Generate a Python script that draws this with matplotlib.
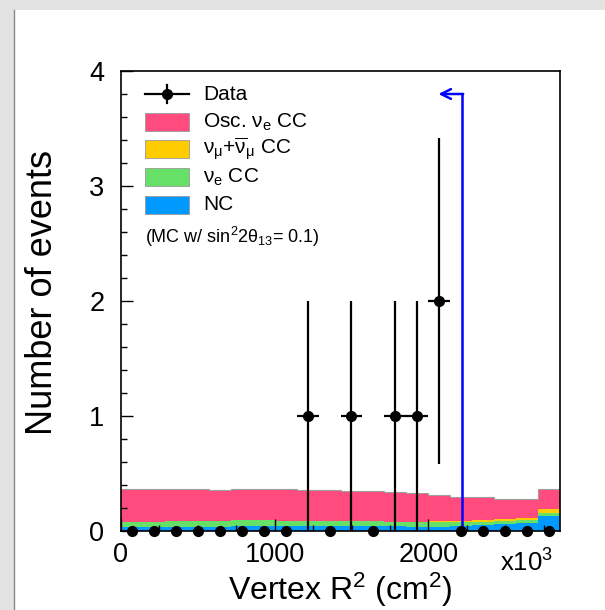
import numpy as np
import matplotlib
matplotlib.use("Agg")
import matplotlib.pyplot as plt
from matplotlib.patches import Rectangle
from matplotlib.lines import Line2D
from matplotlib.ticker import MultipleLocator

plt.rcParams['font.family'] = ['Liberation Sans', 'DejaVu Sans']
plt.rcParams['mathtext.fontset'] = 'custom'
plt.rcParams['mathtext.rm'] = 'Liberation Sans'
plt.rcParams['mathtext.it'] = 'Liberation Sans'
plt.rcParams['mathtext.bf'] = 'Liberation Sans:bold'

# Vertex R^2 binning, in units of 10^3 cm^2
R2_MAX = 2856.1
N_BINS = 20
edges = np.linspace(0.0, R2_MAX, N_BINS + 1)
centers = 0.5 * (edges[:-1] + edges[1:])
half_width = 0.5 * (edges[1] - edges[0])

# Observed events per bin
data_counts = np.array([0, 0, 0, 0, 0, 0, 0, 0, 1, 0,
                        1, 0, 1, 1, 2, 0, 0, 0, 0, 0])

# MC expectation per component (stacked bottom to top)
mc_nc = np.array([0.035, 0.035, 0.035, 0.035, 0.035, 0.040, 0.040, 0.040, 0.040, 0.040,
                  0.040, 0.042, 0.040, 0.037, 0.037, 0.043, 0.052, 0.058, 0.067, 0.130])
mc_nue_cc = np.array([0.047, 0.047, 0.048, 0.048, 0.048, 0.055, 0.055, 0.050, 0.050, 0.048,
                      0.048, 0.045, 0.042, 0.040, 0.045, 0.032, 0.025, 0.026, 0.026, 0.030])
mc_numu_cc = np.array([0.000, 0.000, 0.000, 0.000, 0.000, 0.000, 0.000, 0.000, 0.000, 0.000,
                       0.000, 0.000, 0.000, 0.001, 0.004, 0.012, 0.016, 0.018, 0.023, 0.030])
mc_osc_nue_cc = np.array([0.281, 0.281, 0.279, 0.278, 0.275, 0.271, 0.270, 0.275, 0.270, 0.266,
                          0.260, 0.263, 0.258, 0.249, 0.229, 0.213, 0.199, 0.178, 0.159, 0.173])

# Fiducial volume cut (R = 1490 cm) shown as an arrow
FV_CUT = 2220.1
ARROW_Y = 3.8
ARROW_TIP = 2065.0

C_OSC = '#ff4b7d'
C_NUMU = '#ffcc00'
C_NUE = '#66e066'
C_NC = '#0099ff'

W, H = 605, 610
fig = plt.figure(figsize=(W / 100, H / 100), dpi=100, facecolor='#e3e3e3')

# white canvas with thin grey frame on the left
fig.add_artist(Rectangle((14 / W, 0), 1, 1 - 10 / H, transform=fig.transFigure,
                         facecolor='white', edgecolor='none', zorder=-10))
fig.add_artist(Line2D([13.5 / W, 13.5 / W], [0, 1 - 10 / H], transform=fig.transFigure,
                      color='#8a8a8a', lw=1.0, zorder=-9))

ax = fig.add_axes([121 / W, 79 / H, 439 / W, 460 / H])

# stacked MC histograms
base = np.zeros(N_BINS)
for comp, col in [(mc_nc, C_NC), (mc_nue_cc, C_NUE), (mc_numu_cc, C_NUMU), (mc_osc_nue_cc, C_OSC)]:
    top = base + comp
    ax.stairs(top, edges, baseline=base, fill=True, color=col, lw=0, zorder=1)
    base = top
ax.stairs(base, edges, baseline=None, color='#a0a0a0', lw=0.8, zorder=1.5)

# data with Poisson errors
yerr = np.sqrt(data_counts)
xerr = np.where(data_counts > 0, half_width, 0.0)
ax.errorbar(centers, data_counts, yerr=yerr, xerr=xerr, fmt='o', color='black',
            ms=7, elinewidth=1.6, capsize=0, zorder=5, clip_on=False)

# fiducial cut arrow
ax.plot([FV_CUT, FV_CUT], [0, ARROW_Y], color='#0000ff', lw=1.8, zorder=4)
ax.annotate('', xy=(ARROW_TIP, ARROW_Y), xytext=(FV_CUT + 6, ARROW_Y),
            arrowprops=dict(arrowstyle='->,head_length=0.7,head_width=0.35',
                            color='#0000ff', lw=1.8, shrinkA=0, shrinkB=0), zorder=4)

ax.set_xlim(0, R2_MAX)
ax.set_ylim(0, 4)
ax.xaxis.set_major_locator(MultipleLocator(1000))
ax.xaxis.set_minor_locator(MultipleLocator(250))
ax.yaxis.set_major_locator(MultipleLocator(1))
ax.yaxis.set_minor_locator(MultipleLocator(0.2))
ax.tick_params(which='both', direction='in', top=False, right=False, width=1.0)
ax.tick_params(which='major', length=8.5, labelsize=19.5)
ax.tick_params(which='minor', length=4)
ax.tick_params(axis='y', which='major', pad=12)
ax.tick_params(axis='x', which='major', pad=8)
for s in ax.spines.values():
    s.set_linewidth(1.2)

ax.set_xlabel(r'Vertex R$^{2}$ (cm$^{2}$)', fontsize=23)
ax.xaxis.label.set_va('baseline')
ax.xaxis.set_label_coords(0.5, (531 - 600) / 460)
ax.set_ylabel('Number of events', fontsize=26)
ax.yaxis.label.set_va('baseline')
ax.yaxis.set_label_coords((52 - 121) / 439, (531 - 292) / 460)

fig.text(553 / W, 1 - 572 / H, r'x10$^{3}$', fontsize=18.5, ha='right', va='baseline')


# legend drawn in figure pixel units
def fp(x, y):
    return x / W, 1 - y / H


rows = [94, 122, 149, 177, 205]
bx0, bx1, tx = 145, 189, 203
lx, ly = fp(bx0, rows[0])
rx, _ = fp(bx1, rows[0])
fig.add_artist(Line2D([lx, rx], [ly, ly], transform=fig.transFigure, color='black', lw=1.6))
cx, _ = fp(167, 0)
_, y_top = fp(0, rows[0] - 9)
_, y_bot = fp(0, rows[0] + 9)
fig.add_artist(Line2D([cx, cx], [y_bot, y_top], transform=fig.transFigure, color='black', lw=1.6))
fig.add_artist(Line2D([cx], [ly], transform=fig.transFigure, marker='o', ms=7, color='black'))

labels = ['Data', r'Osc. $\nu_{e}$ CC', r'$\nu_{\mu}$+$\overline{\nu}_{\mu}$ CC', r'$\nu_{e}$ CC', 'NC']
colors = [None, C_OSC, C_NUMU, C_NUE, C_NC]
for yrow, lab, col in zip(rows, labels, colors):
    if col is not None:
        x0, y0 = fp(bx0, yrow + 9)
        fig.add_artist(Rectangle((x0, y0), (bx1 - bx0) / W, 18 / H, transform=fig.transFigure,
                                 facecolor=col, edgecolor='#999999', lw=0.6))
    fig.text(*fp(tx, yrow), lab, fontsize=15, ha='left', va='center')

fig.text(*fp(145, 237), r'(MC w/ sin$^{2}$2$\theta_{13}$= 0.1)', fontsize=13, ha='left', va='center')

fig.savefig('out.png', dpi=100, facecolor=fig.get_facecolor())
